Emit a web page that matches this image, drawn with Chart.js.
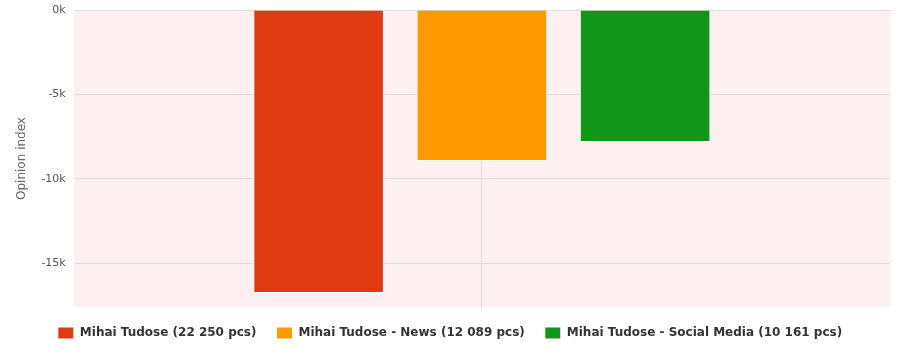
<!DOCTYPE html>
<html>
<head>
<meta charset="utf-8">
<script src="https://cdn.jsdelivr.net/npm/chart.js@4"></script>
<style>
  html, body { margin: 0; padding: 0; background: #fff; }
  #wrap { width: 900px; height: 360px; }
</style>
</head>
<body>
<div id="wrap"><canvas id="opinionChart"></canvas></div>
<script>
// === DATA ===
const categories = [""];
const seriesNames = [
  "Mihai Tudose (22 250 pcs)",
  "Mihai Tudose - News (12 089 pcs)",
  "Mihai Tudose - Social Media (10 161 pcs)"
];
const seriesValues = [-16750, -8930, -7810];
const seriesColors = ["#e03a13", "#ff9900", "#12961a"];
const yTicks = [0, -5000, -10000, -15000];

// pink plot background
const plotBg = {
  id: 'plotBg',
  beforeDraw(chart) {
    const a = chart.chartArea;
    const ctx = chart.ctx;
    ctx.save();
    ctx.fillStyle = '#fef0f0';
    ctx.fillRect(a.left, a.top, a.right - a.left, a.bottom - a.top);
    ctx.restore();
  }
};

Chart.defaults.font.family = "'DejaVu Sans', sans-serif";

let opinionChart = new Chart(document.getElementById("opinionChart"), {
  type: 'bar',
  data: {
    labels: categories,
    datasets: seriesNames.map((name, i) => ({
      label: name,
      data: [seriesValues[i]],
      backgroundColor: seriesColors[i],
      borderColor: '#ffffff',
      borderWidth: 1,
      categoryPercentage: 0.6,
      barPercentage: 0.8
    }))
  },
  options: {
    responsive: true,
    maintainAspectRatio: false,
    animation: false,
    layout: { padding: { top: 0, right: 10, left: 10, bottom: 11 } },
    plugins: {
      tooltip: { enabled: false },
      legend: {
        position: 'bottom',
        labels: {
          boxWidth: 16,
          boxHeight: 12,
          padding: 20,
          color: '#333',
          font: { size: 12, weight: 'bold' }
        }
      }
    },
    scales: {
      x: {
        ticks: { display: false },
        grid: { offset: false, color: '#dddddd', drawTicks: false },
        border: { display: false }
      },
      y: {
        min: -17575,
        max: 0,
        afterBuildTicks: axis => {
          axis.ticks = yTicks.map(v => ({ value: v }));
        },
        afterFit: axis => {
          axis.paddingTop = 10;
        },
        ticks: {
          color: '#555',
          font: { size: 11 },
          padding: 8,
          callback: v => (v / 1000) + 'k'
        },
        grid: { color: '#dddddd', drawTicks: false },
        border: { display: false },
        title: {
          display: true,
          text: 'Opinion index',
          color: '#666',
          font: { size: 12 },
          padding: { top: 5, bottom: 4 }
        }
      }
    }
  },
  plugins: [plotBg]
});
</script>
</body>
</html>
